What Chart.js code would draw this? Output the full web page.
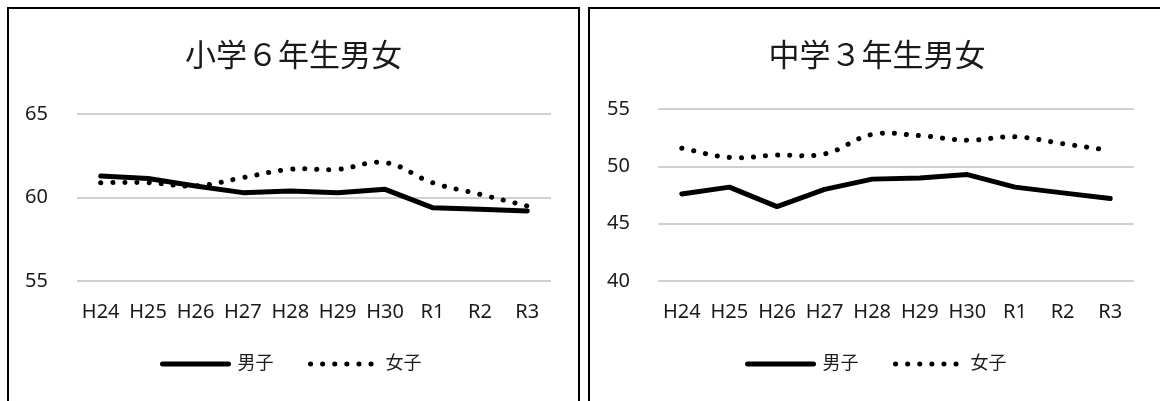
<!DOCTYPE html>
<html>
<head>
<meta charset="utf-8">
<script src="https://cdn.jsdelivr.net/npm/chart.js@4.4.1/dist/chart.umd.min.js"></script>
<style>
  body { margin: 0; background: #fff; overflow: hidden; }
  .box { position: absolute; top: 7px; height: 430px; border: 2px solid #000; overflow: hidden; }
  #boxL { left: 7px; width: 569px; }
  #boxR { left: 588px; width: 580px; }
</style>
</head>
<body>
<div class="box" id="boxL"><canvas id="elemChart" width="569" height="420"></canvas></div>
<div class="box" id="boxR"><canvas id="juniorChart" width="575" height="420"></canvas></div>
<script>
const years = ["H24", "H25", "H26", "H27", "H28", "H29", "H30", "R1", "R2", "R3"];
const seriesNames = ["男子", "女子"];

const elemTitle = "小学６年生男女";
const elemBoys = [61.3, 61.15, 60.7, 60.3, 60.4, 60.3, 60.5, 59.4, 59.3, 59.2];
const elemGirls = [60.9, 60.9, 60.7, 61.2, 61.7, 61.7, 62.1, 60.9, 60.2, 59.5];
const elemTicks = { min: 55, max: 65, step: 5 };

const juniorTitle = "中学３年生男女";
const juniorBoys = [47.6, 48.2, 46.5, 48.0, 48.9, 49.0, 49.3, 48.2, 47.7, 47.2];
const juniorGirls = [51.6, 50.8, 51.0, 51.1, 52.8, 52.7, 52.3, 52.6, 52.0, 51.4];
const juniorTicks = { min: 40, max: 55, step: 5 };

const FONT = '"Noto Sans", "Noto Sans CJK JP", sans-serif';
const TEXT = '#1a1a1a';

// legend samples drawn with each dataset's own line style
function legendLabels(chart) {
  return chart.data.datasets.map((ds, i) => ({
    text: ds.label,
    fillStyle: ds.borderColor,
    strokeStyle: ds.borderColor,
    lineWidth: ds.borderWidth,
    lineDash: ds.borderDash || [],
    lineCap: 'round',
    pointStyle: 'line',
    fontColor: TEXT,
    hidden: false,
    datasetIndex: i
  }));
}

// excel centres title and legend on the whole box, not the padded area
const boxShift = {
  id: 'boxShift',
  afterLayout(chart, args, opts) {
    const lg = chart.legend, tt = chart.titleBlock;
    if (lg) { lg.left += opts.legendDx; lg.right += opts.legendDx; }
    if (tt) { tt.left += opts.titleDx; tt.right += opts.titleDx; }
  }
};

function makeChart(id, title, boys, girls, range, lay) {
  const ctx = document.getElementById(id).getContext('2d');
  return new Chart(ctx, {
    type: 'line',
    data: {
      labels: years,
      datasets: [{
        label: seriesNames[0],
        data: boys,
        borderColor: '#000',
        backgroundColor: '#000',
        borderWidth: 5,
        borderCapStyle: 'round',
        borderJoinStyle: 'round',
        pointRadius: 0,
        tension: 0
      }, {
        label: seriesNames[1],
        data: girls,
        borderColor: '#000',
        backgroundColor: '#000',
        borderWidth: 5,
        borderCapStyle: 'round',
        borderDash: [0.1, 12],
        pointRadius: 0,
        tension: 0.4
      }]
    },
    plugins: [boxShift],
    options: {
      responsive: false,
      animation: false,
      layout: { padding: { left: 0, right: lay.padRight, top: 0, bottom: 46 } },
      plugins: {
        boxShift: { legendDx: lay.legendDx, titleDx: lay.titleDx },
        title: {
          display: true,
          text: title,
          color: TEXT,
          font: { family: FONT, size: 31, weight: 'normal' },
          padding: { top: 29.9, bottom: lay.titleBottom }
        },
        legend: {
          position: 'bottom',
          labels: {
            color: TEXT,
            font: { family: FONT, size: 18 },
            usePointStyle: true,
            pointStyleWidth: 66,
            padding: 37,
            generateLabels: legendLabels
          }
        },
        tooltip: { enabled: false }
      },
      scales: {
        x: {
          offset: true,
          grid: { display: false, drawTicks: false },
          border: { display: false },
          ticks: { color: TEXT, font: { family: FONT, size: 20 }, padding: 19, maxRotation: 0, autoSkip: false },
          afterFit: s => { s.height = 37; }
        },
        y: {
          min: range.min,
          max: range.max,
          grid: { color: '#d0d0d0', lineWidth: 2, drawTicks: false },
          border: { display: false },
          ticks: { stepSize: range.step, color: TEXT, font: { family: FONT, size: 20 }, padding: lay.tickPad },
          afterFit: s => { s.width = 68; }
        }
      }
    }
  });
}

makeChart('elemChart', elemTitle, elemBoys, elemGirls, elemTicks,
  { padRight: 27, tickPad: 29, titleBottom: 38.2, legendDx: 12, titleDx: 13.5 });
makeChart('juniorChart', juniorTitle, juniorBoys, juniorGirls, juniorTicks,
  { padRight: 31, tickPad: 28, titleBottom: 33.2, legendDx: 15, titleDx: 15 });
</script>
</body>
</html>
